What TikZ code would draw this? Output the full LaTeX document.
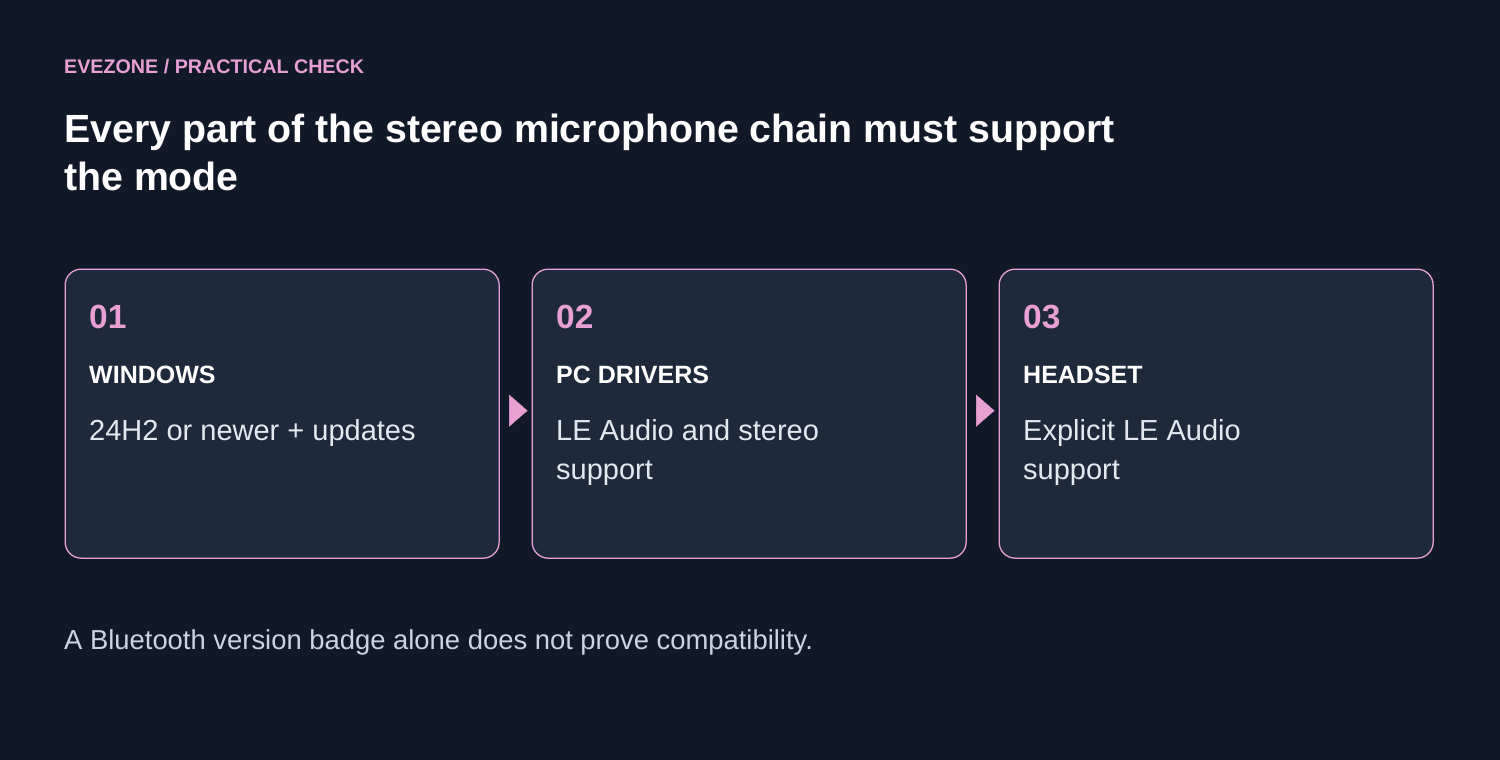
\documentclass[tikz,border=0pt]{standalone}
\usepackage{fontspec}
\setmainfont{Liberation Sans}
\usetikzlibrary{arrows.meta,positioning}
\definecolor{bg}{HTML}{111827}
\definecolor{card}{HTML}{1E293B}
\definecolor{pink}{HTML}{E8A0D4}
\definecolor{body}{HTML}{E2E8F0}
\definecolor{muted}{HTML}{CBD5E1}

\begin{document}
\begin{tikzpicture}[
  x=1pt,y=-1pt,
  card/.style={rectangle,draw=pink,fill=card,line width=1.3pt,rounded corners=16pt,
               minimum width=434pt,minimum height=289pt,anchor=north west},
  txt/.style={anchor=base west,inner sep=0pt,align=left},
  num/.style={txt,text=pink,font=\fontsize{33.5}{38}\selectfont\bfseries},
  head/.style={txt,text=white,font=\fontsize{25}{30}\selectfont\bfseries},
  desc/.style={txt,text=body,font=\fontsize{29}{39}\selectfont},
  link/.style={-{Triangle[length=18.5pt,width=32pt]},draw=pink,fill=pink,line width=0.5pt,
               shorten <=10pt,shorten >=4pt}]

\useasboundingbox[fill=bg] (0,0) rectangle (1500,760);

\node[txt,text=pink,font=\fontsize{19.7}{24}\selectfont\bfseries] (kicker) at (64,74)
  {EVEZONE / PRACTICAL CHECK};
% multi-line nodes sit on the baseline of their last line
\node[txt,text=white,font=\fontsize{39.3}{48}\selectfont\bfseries] (title) at (64,190)
  {Every part of the stereo microphone chain must support\\the mode};

\node[card] (win) at (64.5,268.5) {};
\node[card] (drv) at (531.5,268.5) {};
\node[card] (set) at (998.5,268.5) {};

\node[num] (n1) at (89,328) {01};
\node[head] (h1) at (89,383) {WINDOWS};
\node[desc] (d1) at (89,440) {24H2 or newer + updates};

\node[num] (n2) at (556,328) {02};
\node[head] (h2) at (556,383) {PC DRIVERS};
\node[desc] (d2) at (556,479) {LE Audio and stereo\\support};

\node[num] (n3) at (1023,328) {03};
\node[head] (h3) at (1023,383) {HEADSET};
\node[desc] (d3) at (1023,479) {Explicit LE Audio\\support};

\draw[link] ([yshift=3pt]win.east) -- ([yshift=3pt]drv.west);
\draw[link] ([yshift=3pt]drv.east) -- ([yshift=3pt]set.west);

\node[txt,text=muted,font=\fontsize{27.4}{32}\selectfont] (note) at (64,649)
  {A Bluetooth version badge alone does not prove compatibility.};
\end{tikzpicture}
\end{document}
